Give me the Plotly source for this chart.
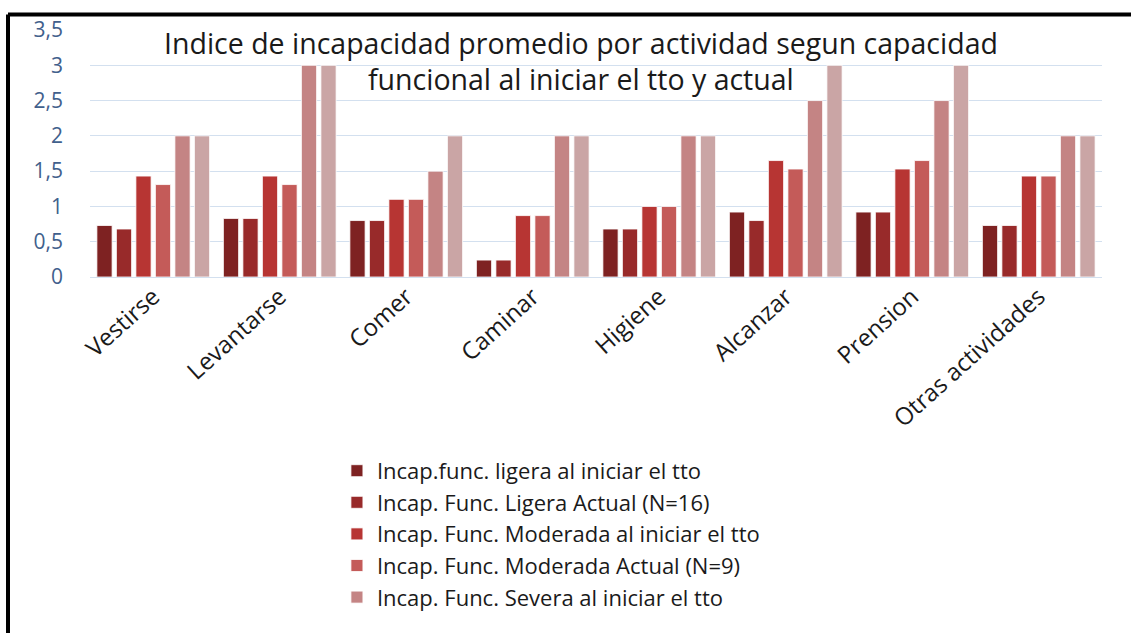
import plotly.graph_objects as go

categories = ["Vestirse", "Levantarse", "Comer", "Caminar", "Higiene", "Alcanzar", "Prension", "Otras actividades"]

series_names = [
    "Incap.func. ligera al iniciar el tto",
    "Incap. Func. Ligera Actual (N=16)",
    "Incap. Func. Moderada al iniciar el tto",
    "Incap. Func. Moderada Actual (N=9)",
    "Incap. Func. Severa al iniciar el tto",
    "Incap. Func. Severa Actual",
]

ligera_inicio = [0.73, 0.83, 0.80, 0.24, 0.68, 0.92, 0.92, 0.73]
ligera_actual = [0.68, 0.83, 0.80, 0.24, 0.68, 0.80, 0.92, 0.73]
moderada_inicio = [1.43, 1.43, 1.10, 0.87, 1.00, 1.65, 1.53, 1.43]
moderada_actual = [1.31, 1.31, 1.10, 0.87, 1.00, 1.53, 1.65, 1.43]
severa_inicio = [2.0, 3.0, 1.5, 2.0, 2.0, 2.5, 2.5, 2.0]
severa_actual = [2.0, 3.0, 2.0, 2.0, 2.0, 3.0, 3.0, 2.0]

series_values = [ligera_inicio, ligera_actual, moderada_inicio, moderada_actual, severa_inicio, severa_actual]
colors = ["#7e2222", "#982a2a", "#b73533", "#c45b59", "#c48484", "#caa5a5"]
show_in_legend = [True, True, True, True, True, False]

y_ticks = [0, 0.5, 1, 1.5, 2, 2.5, 3, 3.5]

title_line1 = "Indice de incapacidad promedio por actividad segun capacidad"
title_line2 = "funcional al iniciar el tto y actual"

FONT = "Open Sans"

fig = go.Figure()
for name, vals, col, sl in zip(series_names, series_values, colors, show_in_legend):
    fig.add_trace(go.Bar(
        x=categories, y=vals, name=name,
        marker=dict(color=col, line=dict(color="rgba(255,255,255,0.8)", width=1)),
        showlegend=sl,
    ))

fig.update_layout(
    width=1131, height=633,
    barmode="group", bargap=0.075, bargroupgap=0.22,
    separators=", ",
    plot_bgcolor="white", paper_bgcolor="white",
    margin=dict(l=90, r=29, t=30, b=356),
    font=dict(family=FONT, color="#1a1a1a"),
    xaxis=dict(
        tickangle=-42, tickfont=dict(size=24, color="#1a1a1a"),
        showline=False, ticks="", showgrid=False,
    ),
    yaxis=dict(
        range=[0, 3.5], tickvals=y_ticks,
        tickfont=dict(size=21, color="#41608c"),
        ticklabelstandoff=26,
        showgrid=True, gridcolor="#d3e0ef", gridwidth=1,
        zeroline=True, zerolinecolor="#d3e0ef", zerolinewidth=1,
        showline=False, ticks="",
    ),
    legend=dict(
        x=0.244, y=-0.70, xanchor="left", yanchor="top",
        font=dict(size=22, color="#1a1a1a", family=FONT),
        tracegroupgap=0, itemwidth=30, bgcolor="rgba(0,0,0,0)",
    ),
    showlegend=True,
)

fig.add_annotation(text=title_line1, xref="paper", yref="paper",
                   x=(581 - 90) / 1012, y=(277 - 43) / 247.5, xanchor="center", yanchor="middle",
                   showarrow=False, font=dict(size=28.5, color="#1a1a1a", family=FONT))
fig.add_annotation(text=title_line2, xref="paper", yref="paper",
                   x=(581 - 90) / 1012, y=(277 - 79) / 247.5, xanchor="center", yanchor="middle",
                   showarrow=False, font=dict(size=28.5, color="#1a1a1a", family=FONT))

# outer frame (top and left edges)
fig.add_shape(type="line", xref="paper", yref="paper",
              x0=(8 - 90) / 1012, x1=(1135 - 90) / 1012,
              y0=(277 - 14) / 247.5, y1=(277 - 14) / 247.5,
              line=dict(color="black", width=4))
fig.add_shape(type="line", xref="paper", yref="paper",
              x0=(8 - 90) / 1012, x1=(8 - 90) / 1012,
              y0=(277 - 14) / 247.5, y1=(277 - 640) / 247.5,
              line=dict(color="black", width=4))

fig.write_html("out.html", config={"displayModeBar": False},
               post_script="document.body.style.margin='0';document.body.style.overflow='hidden';")
